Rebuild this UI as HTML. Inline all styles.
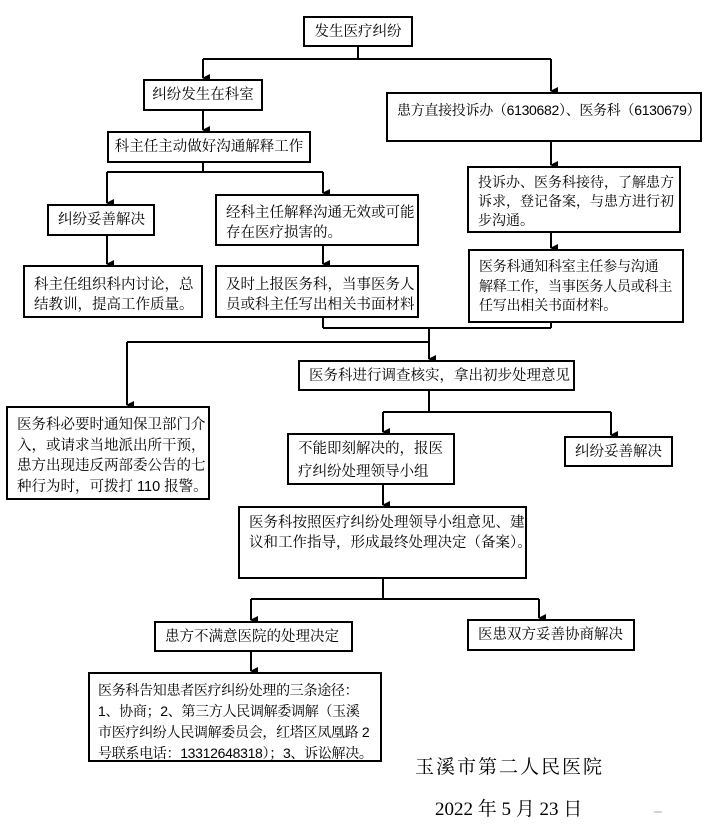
<!DOCTYPE html>
<html><head><meta charset="utf-8">
<style>
html,body{margin:0;padding:0;background:#fff;}
body{width:715px;height:824px;position:relative;overflow:hidden;font-family:"Liberation Serif","Noto Serif CJK SC","Noto Sans CJK SC",serif;color:#000;}
.b{position:absolute;border:2px solid #000;box-sizing:border-box;font-size:14.5px;line-height:20px;padding-left:9px;white-space:nowrap;background:#fff;overflow:hidden;font-family:"Liberation Sans","Noto Serif CJK SC","Noto Sans CJK SC",sans-serif;}
.c{text-align:center;padding-left:0;}
.s{font-size:14px;}
svg{position:absolute;left:0;top:0;}
</style></head><body>
<svg width="715" height="824" viewBox="0 0 715 824">
<defs><marker id="a" markerWidth="8" markerHeight="8" refX="4" refY="7" orient="auto" markerUnits="userSpaceOnUse"><path d="M0,0 L8,0 L4,8 z" fill="#000"/></marker></defs>
<g stroke="#000" stroke-width="2" fill="none">
<path d="M358,47 V59 M203,59 H551"/>
<path d="M203,59 V78" marker-end="url(#a)"/>
<path d="M551,59 V91" marker-end="url(#a)"/>
<path d="M203,111 V130" marker-end="url(#a)"/>
<path d="M203,163 V172 M107,172 H323"/>
<path d="M107,172 V203" marker-end="url(#a)"/>
<path d="M323,172 V193" marker-end="url(#a)"/>
<path d="M107,236 V264" marker-end="url(#a)"/>
<path d="M323,246 V264" marker-end="url(#a)"/>
<path d="M551,141 V165" marker-end="url(#a)"/>
<path d="M551,233 V248" marker-end="url(#a)"/>
<path d="M323,318 V328 M323,328 H551 M551,322 V328 M429,328 V342 M127,342 H429"/>
<path d="M127,342 V405" marker-end="url(#a)"/>
<path d="M429,342 V359" marker-end="url(#a)"/>
<path d="M429,391 V412 M383,412 H611"/>
<path d="M383,412 V432" marker-end="url(#a)"/>
<path d="M611,412 V435" marker-end="url(#a)"/>
<path d="M383,485 V505" marker-end="url(#a)"/>
<path d="M383,578 V599 M251,599 H539"/>
<path d="M251,599 V620" marker-end="url(#a)"/>
<path d="M539,599 V618" marker-end="url(#a)"/>
<path d="M251,652 V671" marker-end="url(#a)"/>
</g>
<line x1="654" y1="812" x2="662" y2="812" stroke="#aaa" stroke-width="1"/>
</svg>

<div class="b c" style="left:303px;top:16px;width:110px;height:31px;padding-top:4px;">发生医疗纠纷</div>
<div class="b c" style="left:143px;top:79px;width:120px;height:32px;padding-top:4px;">纠纷发生在科室</div>
<div class="b c" style="left:107px;top:131px;width:204px;height:32px;padding-top:4px;">科主任主动做好沟通解释工作</div>
<div class="b" style="left:47px;top:204px;width:108px;height:32px;padding-top:4px;">纠纷妥善解决</div>
<div class="b" style="left:23px;top:265px;width:180px;height:53px;padding-top:8px;">科主任组织科内讨论，总<br>结教训，提高工作质量。</div>
<div class="b" style="left:215px;top:194px;width:204px;height:52px;padding-top:7px;">经科主任解释沟通无效或可能<br>存在医疗损害的。</div>
<div class="b" style="left:215px;top:265px;width:204px;height:53px;padding-top:8px;">及时上报医务科，当事医务人<br>员或科主任写出相关书面材料</div>
<div class="b s" style="left:386px;top:92px;width:316px;height:50px;padding-top:6px;letter-spacing:-0.3px;">患方直接投诉办（6130682）、医务科（6130679）</div>
<div class="b s" style="left:467px;top:166px;width:214px;height:67px;padding-top:5px;line-height:19px;">投诉办、医务科接待，了解患方<br>诉求，登记备案，与患方进行初<br>步沟通。</div>
<div class="b s" style="left:468px;top:249px;width:216px;height:74px;padding-top:6px;line-height:19.5px;letter-spacing:-0.2px;">医务科通知科室主任参与沟通<br>解释工作，当事医务人员或科主<br>任写出相关书面材料。</div>
<div class="b" style="left:6px;top:406px;width:204px;height:94px;padding-top:7px;line-height:20.5px;">医务科必要时通知保卫部门介<br>入，或请求当地派出所干预，<br>患方出现违反两部委公告的七<br>种行为时，可拨打 110 报警。</div>
<div class="b" style="left:298px;top:360px;width:277px;height:31px;padding-top:4px;">医务科进行调查核实，拿出初步处理意见</div>
<div class="b" style="left:287px;top:433px;width:168px;height:52px;padding-top:3px;line-height:23px;">不能即刻解决的，报医<br>疗纠纷处理领导小组</div>
<div class="b" style="left:564px;top:436px;width:109px;height:31px;padding-top:4px;">纠纷妥善解决</div>
<div class="b" style="left:238px;top:506px;width:289px;height:73px;padding-top:5px;">医务科按照医疗纠纷处理领导小组意见、建<br>议和工作指导，形成最终处理决定（备案）。</div>
<div class="b" style="left:154px;top:621px;width:199px;height:31px;padding-top:4px;">患方不满意医院的处理决定</div>
<div class="b" style="left:467px;top:619px;width:168px;height:32px;padding-top:4px;">医患双方妥善协商解决</div>
<div class="b s" style="left:88px;top:672px;width:294px;height:90px;padding-top:6px;padding-left:8px;line-height:21px;letter-spacing:-0.3px;">医务科告知患者医疗纠纷处理的三条途径：<br>1、协商；2、第三方人民调解委调解（玉溪<br>市医疗纠纷人民调解委员会，红塔区凤凰路 2<br>号联系电话：13312648318）；3、诉讼解决。</div>
<div style="position:absolute;left:415px;top:755px;font-size:19px;letter-spacing:2px;white-space:nowrap;line-height:26px;">玉溪市第二人民医院</div>
<div style="position:absolute;left:435px;top:797px;font-size:19px;white-space:nowrap;line-height:26px;">2022 年 5 月 23 日</div>
</body></html>
